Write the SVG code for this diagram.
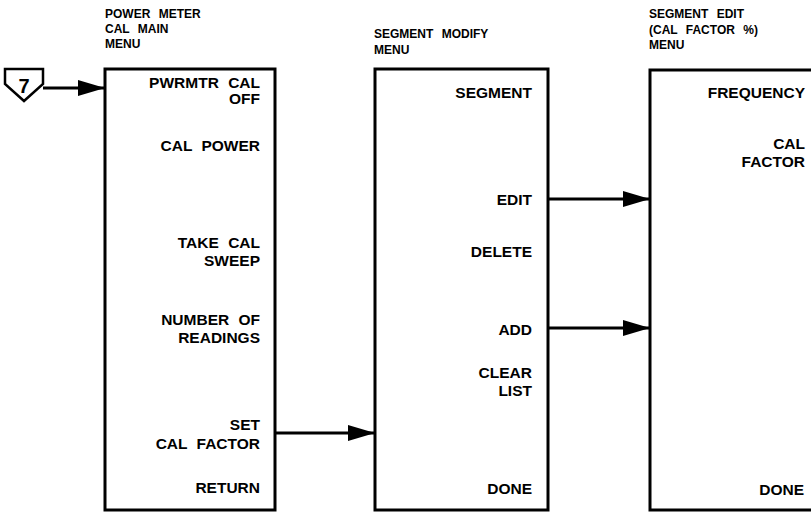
<svg xmlns="http://www.w3.org/2000/svg" width="811" height="513" viewBox="0 0 811 513">
<style>
.box{fill:none;stroke:#000;stroke-width:3}
.ttl{font-family:"Liberation Sans",Arial,sans-serif;font-weight:bold;font-size:12px;word-spacing:5px;fill:#000}
.lbl{font-family:"Liberation Sans",Arial,sans-serif;font-weight:bold;font-size:15.5px;word-spacing:5px;fill:#000;text-anchor:end}
.con{fill:none;stroke:#000;stroke-width:3}
</style>
<defs>
<marker id="ah" markerUnits="userSpaceOnUse" markerWidth="28" markerHeight="18" refX="27" refY="9" orient="auto">
<path d="M0,1 L27,9 L0,17 Z" fill="#000"/>
</marker>
</defs>
<rect width="811" height="513" fill="#fff"/>
<g id="entry7">
<path d="M5,69 H43 V84 L24,101 L5,84 Z" fill="#fff" stroke="#000" stroke-width="2.5"/>
<text x="24" y="93" font-family="Liberation Sans,Arial,sans-serif" font-weight="bold" font-size="20" text-anchor="middle">7</text>
</g>
<g id="node-cal-main">
<text class="ttl" x="105" y="18">POWER METER</text>
<text class="ttl" x="105" y="33">CAL MAIN</text>
<text class="ttl" x="105" y="48">MENU</text>
<rect class="box" x="105" y="69" width="170" height="441"/>
<text class="lbl" x="260" y="88">PWRMTR CAL</text>
<text class="lbl" x="260" y="104">OFF</text>
<text class="lbl" x="260" y="151">CAL POWER</text>
<text class="lbl" x="260" y="248">TAKE CAL</text>
<text class="lbl" x="260" y="266">SWEEP</text>
<text class="lbl" x="260" y="325">NUMBER OF</text>
<text class="lbl" x="260" y="343">READINGS</text>
<text class="lbl" x="260" y="430">SET</text>
<text class="lbl" x="260" y="449">CAL FACTOR</text>
<text class="lbl" x="260" y="493">RETURN</text>
</g>
<g id="node-segment-modify">
<text class="ttl" x="374" y="38">SEGMENT MODIFY</text>
<text class="ttl" x="374" y="54">MENU</text>
<rect class="box" x="375" y="69" width="173" height="441"/>
<text class="lbl" x="532" y="98">SEGMENT</text>
<text class="lbl" x="532" y="205">EDIT</text>
<text class="lbl" x="532" y="257">DELETE</text>
<text class="lbl" x="532" y="335">ADD</text>
<text class="lbl" x="532" y="378">CLEAR</text>
<text class="lbl" x="532" y="396">LIST</text>
<text class="lbl" x="532" y="494">DONE</text>
</g>
<g id="node-segment-edit">
<text class="ttl" x="649" y="18">SEGMENT EDIT</text>
<text class="ttl" x="649" y="34">(CAL FACTOR %)</text>
<text class="ttl" x="649" y="49">MENU</text>
<path class="box" d="M811,70 H650 V510 H811"/>
<text class="lbl" x="805" y="98">FREQUENCY</text>
<text class="lbl" x="805" y="149">CAL</text>
<text class="lbl" x="805" y="167">FACTOR</text>
<text class="lbl" x="804" y="495">DONE</text>
</g>
<g id="connectors">
<line class="con" x1="43" y1="88" x2="105" y2="88" marker-end="url(#ah)"/>
<line class="con" x1="275" y1="433" x2="375" y2="433" marker-end="url(#ah)"/>
<line class="con" x1="548" y1="199" x2="650" y2="199" marker-end="url(#ah)"/>
<line class="con" x1="548" y1="328" x2="650" y2="328" marker-end="url(#ah)"/>
</g>
</svg>
